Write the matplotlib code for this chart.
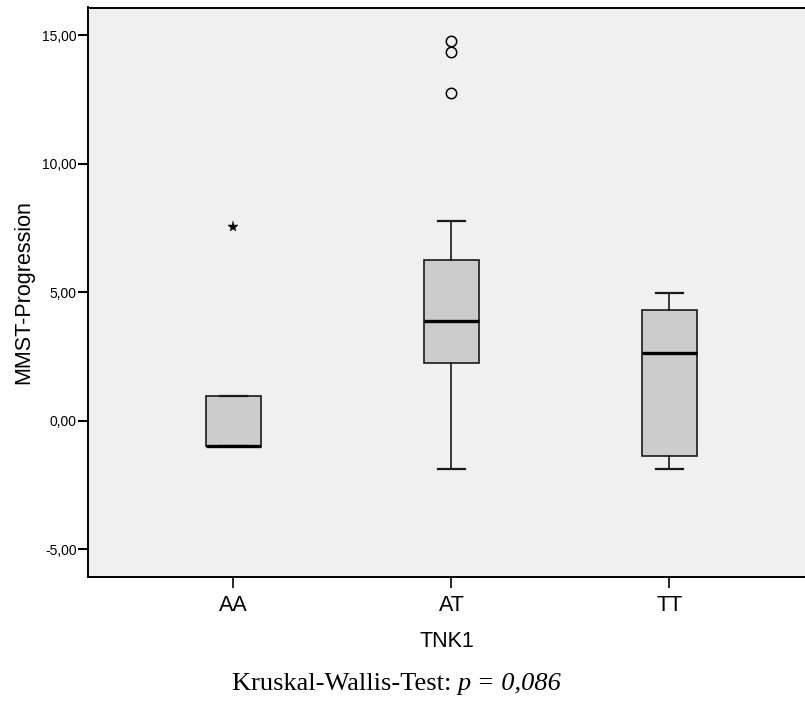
import numpy as np
import matplotlib
matplotlib.use("Agg")
import matplotlib.pyplot as plt
import matplotlib.ticker as ticker

# MMST progression by TNK1 genotype (box summaries)
groups   = ["AA", "AT", "TT"]
whislo   = [-1.00, -1.88, -1.87]
q1       = [-1.00,  2.23, -1.37]
med      = [-1.00,  3.89,  2.63]
q3       = [ 0.96,  6.24,  4.31]
whishi   = [ 0.96,  7.77,  4.97]
outliers = [[], [14.77, 14.33, 12.76], []]   # circles
extremes = [[7.52], [], []]                  # asterisks
yticks   = [-5, 0, 5, 10, 15]
p_value  = "0,086"

BG = "#f0f0f0"
BOX = "#cccccc"
SANS = ["Liberation Sans", "DejaVu Sans"]
SERIF = ["Liberation Serif", "DejaVu Serif"]

fig = plt.figure(figsize=(8.05, 7.06), dpi=100)
W, H = 805, 706
ax = fig.add_axes([88 / W, (H - 576.7) / H, (W - 88) / W, (576.7 - 7.5) / H])
ax.set_facecolor(BG)

pos = np.arange(1, len(groups) + 1)
stats = [dict(whislo=whislo[i], q1=q1[i], med=med[i], q3=q3[i],
              whishi=whishi[i], fliers=outliers[i], label=groups[i])
         for i in range(len(groups))]
ax.bxp(stats, positions=pos, widths=0.25, patch_artist=True,
       capwidths=0.122,
       boxprops=dict(facecolor=BOX, edgecolor="#1a1a1a", linewidth=1.2),
       medianprops=dict(color="black", linewidth=2.4, solid_capstyle="butt"),
       whiskerprops=dict(color="#1a1a1a", linewidth=1.2),
       capprops=dict(color="#1a1a1a", linewidth=1.6),
       flierprops=dict(marker="o", markersize=7.5, markerfacecolor="none",
                       markeredgecolor="black", markeredgewidth=1.1))

for i, ext in enumerate(extremes):
    if ext:
        ax.plot([pos[i]] * len(ext), ext, linestyle="none", marker="*",
                markersize=8, color="black", markeredgewidth=0.3)

ax.set_xlim(0.333, 3.622)
ax.set_ylim(-6.07, 16.07)
ax.set_xticks(pos)
ax.set_xticklabels(groups, fontsize=15.5, family=SANS)
ax.set_yticks(yticks)
ax.yaxis.set_major_formatter(ticker.FuncFormatter(lambda v, _: f"{v:.2f}".replace(".", ",")))
for lab in ax.get_yticklabels():
    lab.set_family(SANS)
    lab.set_fontsize(10)
ax.tick_params(axis="y", direction="out", length=7, width=1.5, pad=1, colors="black")
ax.tick_params(axis="x", direction="out", length=8, width=1.2, pad=5, colors="black")

for s in ("left", "bottom", "top"):
    ax.spines[s].set_linewidth(1.4)
    ax.spines[s].set_color("black")
ax.spines["right"].set_visible(False)

ax.set_xlabel("TNK1", fontsize=15.5, family=SANS, labelpad=11)
ax.set_ylabel("MMST-Progression", fontsize=15.5, family=SANS, labelpad=6)

# caption: plain test name followed by italic p-value
cap_y = 1 - 690 / H
t1 = fig.text(232 / W, cap_y, "Kruskal-Wallis-Test: ", family=SERIF,
              fontsize=19, ha="left", va="baseline")
fig.canvas.draw()
bb = t1.get_window_extent()
fig.text(bb.x1 / W, cap_y, f"p = {p_value}", family=SERIF, fontsize=19,
         style="italic", ha="left", va="baseline")

fig.savefig("out.png", dpi=100, facecolor="white")
